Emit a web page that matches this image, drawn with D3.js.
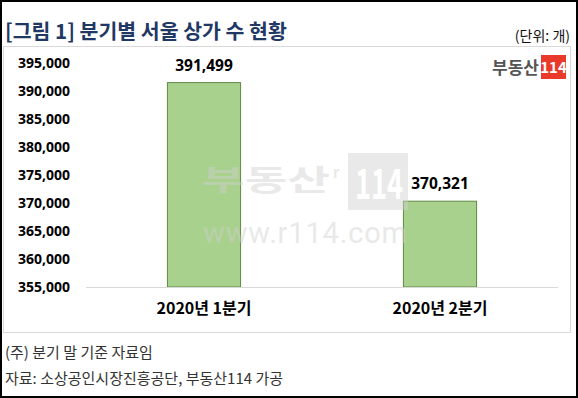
<!DOCTYPE html>
<html>
<head>
<meta charset="utf-8">
<script src="https://cdn.jsdelivr.net/npm/d3@7"></script>
<style>
  body { margin: 0; background: #fff; }
  svg { display: block; font-family: "Noto Sans CJK KR", "Noto Sans", sans-serif; }
</style>
</head>
<body>
<div id="chart"></div>
<script>
var categories = ['2020년 1분기', '2020년 2분기'];
var values = [391499, 370321];
var yTicks = [355000, 360000, 365000, 370000, 375000, 380000, 385000, 390000, 395000];

var width = 578;
var height = 398;

var svg = d3.select('#chart')
    .append('svg')
    .attr('width', width)
    .attr('height', height);

// outer frame
svg.append('rect')
    .attr('x', 1).attr('y', 1)
    .attr('width', width - 2).attr('height', height - 2)
    .attr('fill', '#fff')
    .attr('stroke', '#000')
    .attr('stroke-width', 2);

// title
svg.append('text')
    .attr('x', 5)
    .attr('y', 39)
    .attr('fill', '#1f3864')
    .style('font-size', '20.5px')
    .style('font-weight', 'bold')
    .text('[그림 1] 분기별 서울 상가 수 현황');

svg.append('text')
    .attr('x', 570)
    .attr('y', 41)
    .attr('text-anchor', 'end')
    .attr('fill', '#111')
    .style('font-size', '14px')
    .text('(단위: 개)');

// chart box
svg.append('rect')
    .attr('x', 3.5).attr('y', 46.5)
    .attr('width', 567).attr('height', 286)
    .attr('fill', '#fff')
    .attr('stroke', '#d9d9d9');

// logo
svg.append('text')
    .attr('x', 539).attr('y', 74)
    .attr('text-anchor', 'end')
    .attr('fill', '#555')
    .style('font-size', '17px')
    .style('font-weight', 'bold')
    .text('부동산');
svg.append('rect')
    .attr('x', 541).attr('y', 55)
    .attr('width', 25).attr('height', 24)
    .attr('fill', '#e8392b');
svg.append('text')
    .attr('x', 553.5).attr('y', 73)
    .attr('text-anchor', 'middle')
    .attr('fill', '#fff')
    .style('font-size', '15px')
    .style('font-weight', 'bold')
    .text('114');

var x = d3.scaleBand()
    .domain(categories)
    .range([86, 558])
    .paddingInner(0.69)
    .paddingOuter(0.345);

var y = d3.scaleLinear()
    .domain([355000, 395000])
    .range([287, 63]);

var fmt = d3.format(',');

// y labels
var yAxis = d3.axisLeft(y)
    .tickValues(yTicks)
    .tickFormat(fmt)
    .tickSize(0)
    .tickPadding(0);

var gy = svg.append('g')
    .attr('transform', 'translate(70,0)')
    .call(yAxis);
gy.select('.domain').remove();
gy.selectAll('text')
    .attr('fill', '#000')
    .style('font-size', '14px')
    .style('font-weight', 'bold')
    .style('font-family', '"Noto Sans", sans-serif');

// bars
svg.selectAll('.bar')
    .data(values)
    .enter()
    .append('rect')
    .attr('class', 'bar')
    .attr('x', function (d, i) {return x(categories[i]);})
    .attr('y', function (d) {return y(d);})
    .attr('width', x.bandwidth())
    .attr('height', function (d) {return y(355000) - y(d);})
    .attr('fill', '#a9d18e')
    .attr('stroke', '#5f8a42')
    .attr('stroke-width', 1);

// baseline
svg.append('line')
    .attr('x1', 86).attr('x2', 558)
    .attr('y1', y(355000) + 0.5).attr('y2', y(355000) + 0.5)
    .attr('stroke', '#d9d9d9');

// value labels
svg.selectAll('.val')
    .data(values)
    .enter()
    .append('text')
    .attr('class', 'val')
    .attr('x', function (d, i) {return x(categories[i]) + x.bandwidth() / 2;})
    .attr('y', function (d) {return y(d) - 12;})
    .attr('text-anchor', 'middle')
    .attr('fill', '#000')
    .style('font-size', '15.5px')
    .style('font-weight', 'bold')
    .style('font-family', '"Noto Sans", sans-serif')
    .text(function (d) {return fmt(d);});

// watermark (semi-transparent, on top of the bars)
var wm = svg.append('g').attr('fill', '#cfcfcf').attr('opacity', 0.45);
wm.append('text')
    .attr('x', 202).attr('y', 191)
    .attr('textLength', 128)
    .attr('lengthAdjust', 'spacingAndGlyphs')
    .style('font-size', '29px')
    .style('font-weight', 'bold')
    .text('부동산');
wm.append('text')
    .attr('x', 333).attr('y', 178)
    .style('font-size', '15px')
    .style('font-weight', 'bold')
    .text('r');
wm.append('rect')
    .attr('x', 348).attr('y', 153)
    .attr('width', 60).attr('height', 57);
wm.append('text')
    .attr('x', 203).attr('y', 243)
    .attr('textLength', 204)
    .attr('lengthAdjust', 'spacing')
    .style('font-size', '29px')
    .style('font-family', 'Roboto, sans-serif')
    .text('www.r114.com');
svg.append('text')
    .attr('transform', 'translate(355,199) scale(0.85,1.3)')
    .attr('fill', '#fff')
    .style('font-size', '32px')
    .style('font-weight', 'bold')
    .text('114');

// x labels
var xAxis = d3.axisBottom(x).tickSize(0).tickPadding(0);
var gx = svg.append('g')
    .attr('transform', 'translate(0,303)')
    .call(xAxis);
gx.select('.domain').remove();
gx.selectAll('text')
    .attr('fill', '#000')
    .style('font-size', '16px')
    .style('font-weight', 'bold')
    .style('font-family', '"Noto Sans CJK KR", sans-serif');

// footnotes
svg.append('text')
    .attr('x', 5).attr('y', 358)
    .attr('fill', '#333')
    .style('font-size', '15px')
    .text('(주) 분기 말 기준 자료임');
svg.append('text')
    .attr('x', 5).attr('y', 384)
    .attr('fill', '#333')
    .style('font-size', '15px')
    .text('자료: 소상공인시장진흥공단, 부동산114 가공');
</script>
</body>
</html>
